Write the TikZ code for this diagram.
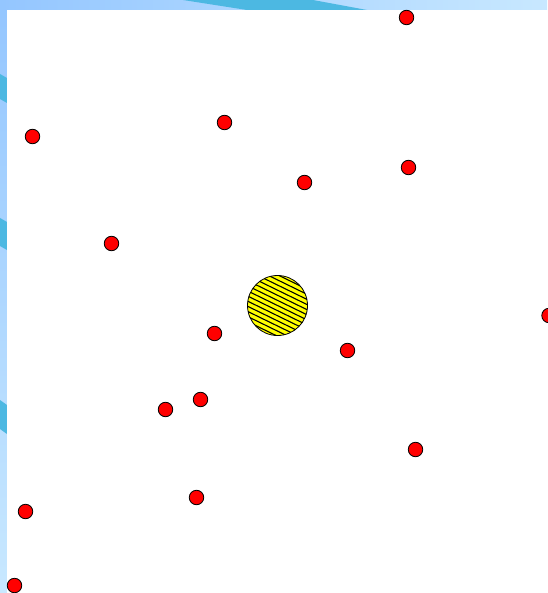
\documentclass[tikz,border=0pt]{standalone}
\usepackage{xcolor}

\definecolor{frameA}{RGB}{148,198,255}
\definecolor{frameB}{RGB}{200,232,255}
\definecolor{stripe}{RGB}{76,184,226}
\definecolor{dotred}{RGB}{255,0,0}
\definecolor{sunyellow}{RGB}{255,255,0}

\tikzset{
  dot/.style={circle,draw=black,fill=dotred,line width=0.8pt,minimum size=14.5pt,inner sep=0pt},
  hatch/.style={black,line width=1.1pt},
}

\begin{document}
\begin{tikzpicture}[x=1pt,y=-1pt,line cap=round]
  \useasboundingbox (0,0) rectangle (547,593);

  % --- frame bands ---
  \shade[top color=frameA,bottom color=frameB] (0,0) rectangle (7,593);
  \shade[left color=frameA,right color=frameB] (0,0) rectangle (547,10);
  \fill[stripe] (183,0) -- (313,0) -- (367,10) -- (247,10) -- cycle;
  \fill[stripe] (0,74) -- (7,78) -- (7,103) -- (0,99) -- cycle;
  \fill[stripe] (0,218) -- (7,222) -- (7,250) -- (0,246) -- cycle;
  \fill[stripe] (0,400) -- (7,405) -- (7,434) -- (0,429) -- cycle;

  % --- field ---
  \fill[white] (7,10) rectangle (547,593);

  % hatched disc
  \coordinate (sun) at (277.5,305.5);
  \fill[sunyellow] (sun) circle (30);
  \begin{scope}
    \clip (sun) circle (30);
    \foreach \k in {-7,...,7}
      \draw[hatch,shift={(sun)},rotate=-26] (-40,\k*4.6) -- (40,\k*4.6);
  \end{scope}
  \draw[black,line width=0.8pt] (sun) circle (30);

  % red points
  \foreach \n/\px/\py in {1/406.5/17.5, 2/32.5/136.5, 3/224.5/122.5, 4/408.5/167.5, 5/304.5/182.5,
      6/111.5/243.5, 7/214.5/333.5, 8/347.5/350.5, 9/549/315.5, 10/165.5/409.5, 11/200.5/399.5,
      12/415.5/449.5, 13/196.5/497.5, 14/25.5/511.5, 15/14.5/585.5}
    \node[dot] (d\n) at (\px,\py) {};
\end{tikzpicture}
\end{document}
